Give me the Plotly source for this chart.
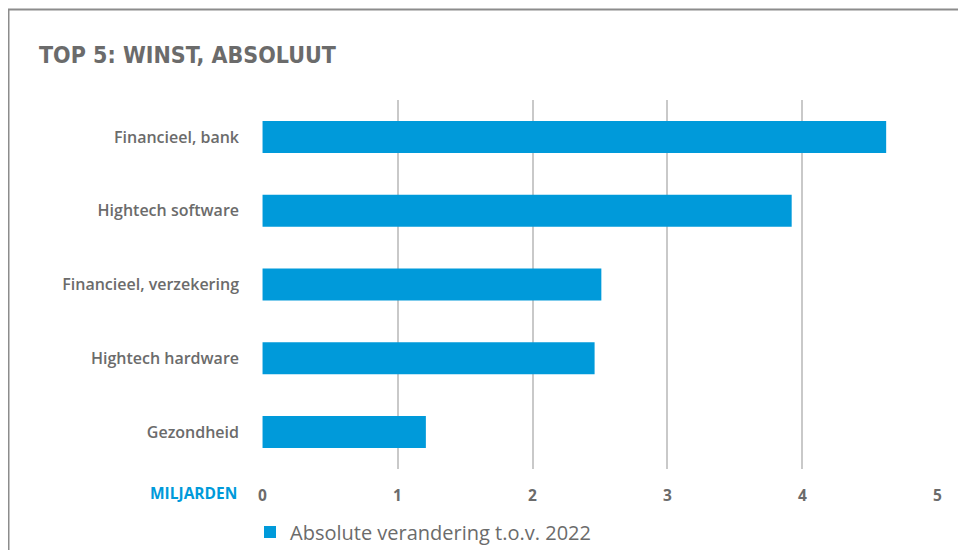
import plotly.graph_objects as go

categories = ["Financieel, bank", "Hightech software", "Financieel, verzekering",
              "Hightech hardware", "Gezondheid"]
values = [4.62, 3.92, 2.51, 2.46, 1.21]
tick_vals = [0, 1, 2, 3, 4, 5]
series_name = "Absolute verandering t.o.v. 2022"
title_text = "TOP 5: WINST, ABSOLUUT"
unit_label = "MILJARDEN"

BLUE = "#009ada"
GRAY = "#6b6b6b"
OFF = 8  # default page body margin
W, H = 966 - OFF, 558 - 2 * OFF
# plot area in page pixels: x 262..938, y 100..469
L, T = 262 - OFF, 100 - OFF
R = (OFF + W) - 938
B = (OFF + H) - 469
pw, ph = W - L - R, H - T - B

def px_x(x):
    return (x - OFF - L) / pw

def px_y(y):
    return (T + ph - (y - OFF)) / ph

fig = go.Figure()
fig.add_trace(go.Bar(
    y=categories, x=values, orientation="h", name=series_name,
    marker=dict(color=BLUE, line=dict(width=0)), width=0.434,
    showlegend=True,
))

fig.update_layout(
    width=W, height=H,
    margin=dict(l=L, r=R, t=T, b=B, pad=0, autoexpand=False),
    paper_bgcolor="white", plot_bgcolor="white",
    font=dict(family="Open Sans", color=GRAY, size=14),
    xaxis=dict(range=[-0.004, 5.004], tickvals=tick_vals, showgrid=True,
               gridcolor="#c9c9c9", gridwidth=2, zeroline=False, showline=False,
               ticks="", tickfont=dict(size=15.5, color=GRAY, family="Open Sans", weight="bold"),
               ticklabelstandoff=15, fixedrange=True, automargin=False),
    yaxis=dict(categoryorder="array", categoryarray=categories, autorange="reversed",
               showgrid=False, zeroline=False, showline=False, ticks="",
               tickfont=dict(size=16, color=GRAY, family="Open Sans", weight=600),
               ticklabelstandoff=22, fixedrange=True, automargin=False),
    legend=dict(orientation="h", x=px_x(250), xanchor="left", y=px_y(532), yanchor="middle",
                font=dict(size=20, color=GRAY, family="Open Sans"),
                bgcolor="rgba(0,0,0,0)", itemclick=False),
    showlegend=True,
)

fig.add_annotation(
    text=title_text, xref="paper", yref="paper", x=px_x(37), y=px_y(55),
    xanchor="left", yanchor="middle", showarrow=False,
    font=dict(family="DejaVu Sans Condensed", size=23, color=GRAY, weight="bold"),
)
fig.add_annotation(
    text=unit_label, xref="paper", yref="paper", x=px_x(239), y=px_y(493),
    xanchor="right", yanchor="middle", showarrow=False,
    font=dict(family="Open Sans", size=15.5, color=BLUE, weight="bold"),
)
fig.add_shape(
    type="rect", xref="paper", yref="paper",
    x0=px_x(8.5), x1=px_x(990), y0=px_y(590), y1=px_y(9.5),
    line=dict(color="#8c8c8c", width=2), fillcolor="rgba(0,0,0,0)", layer="below",
)

fig.write_html("out.html", config={"displayModeBar": False})
